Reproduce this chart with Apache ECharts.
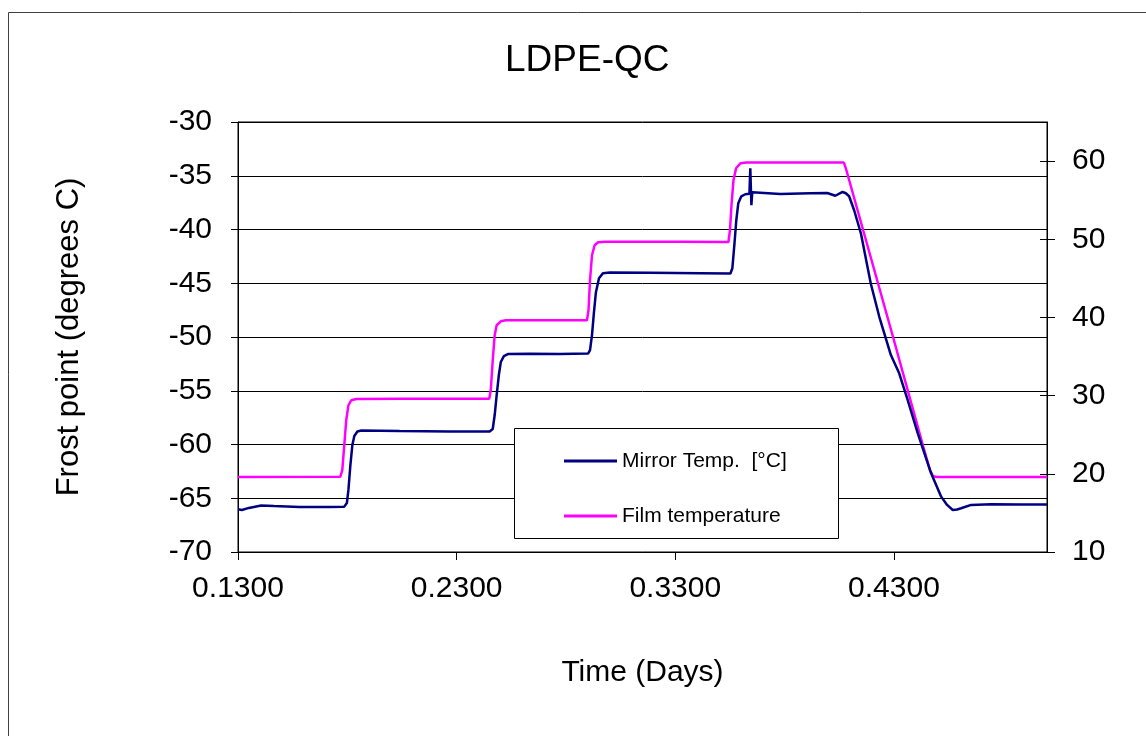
<!DOCTYPE html>
<html>
<head>
<meta charset="utf-8">
<script src="https://cdn.jsdelivr.net/npm/echarts@6/dist/echarts.min.js"></script>
<style>
html,body{margin:0;padding:0;background:#fff;}
#chart{width:1146px;height:736px;}
</style>
</head>
<body>
<div id="chart"></div>
<script>
var chartTitle = 'LDPE-QC';
var xTitle = 'Time (Days)';
var yTitle = 'Frost point (degrees C)';
var seriesNames = ['Mirror Temp.  [°C]', 'Film temperature'];
var xTicks = [0.13, 0.23, 0.33, 0.43];
var yLeftTicks = [-70, -65, -60, -55, -50, -45, -40, -35, -30];
var yRightTicks = [10, 20, 30, 40, 50, 60];

var mirrorX = [0.1300,0.1318,0.1350,0.1406,0.1465,0.1580,0.1717,0.1786,0.1798,0.1805,0.1814,0.1823,0.1832,0.1846,0.1864,0.2039,0.2268,0.2451,0.2465,0.2474,0.2483,0.2493,0.2502,0.2516,0.2534,0.2635,0.2772,0.2901,0.2910,0.2919,0.2928,0.2937,0.2951,0.2969,0.3001,0.3185,0.3414,0.3552,0.3561,0.3570,0.3579,0.3588,0.3602,0.3620,0.3639,0.3643,0.3648,0.3652,0.3661,0.3780,0.3917,0.3995,0.4032,0.4065,0.4080,0.4095,0.4118,0.4149,0.4194,0.4233,0.4286,0.4324,0.4363,0.4409,0.4470,0.4516,0.4543,0.4569,0.4589,0.4607,0.4653,0.4745,0.4883,0.5000];
var mirrorY = [-66.02,-66.09,-65.90,-65.67,-65.72,-65.81,-65.81,-65.78,-65.44,-64.23,-61.91,-60.05,-59.21,-58.79,-58.70,-58.75,-58.79,-58.79,-58.56,-57.26,-55.40,-53.54,-52.33,-51.78,-51.59,-51.56,-51.59,-51.54,-51.22,-49.82,-47.69,-45.83,-44.53,-44.06,-44.00,-44.03,-44.06,-44.09,-43.60,-41.46,-39.14,-37.56,-36.91,-36.72,-36.67,-34.30,-37.74,-36.53,-36.67,-36.70,-36.63,-36.60,-36.86,-36.51,-36.63,-36.91,-38.21,-40.37,-45.02,-48.12,-51.68,-53.38,-55.87,-58.96,-62.68,-64.85,-65.62,-66.09,-66.04,-65.93,-65.62,-65.56,-65.58,-65.58];

var filmX = [0.1300,0.1768,0.1777,0.1786,0.1795,0.1805,0.1818,0.1841,0.2039,0.2449,0.2456,0.2465,0.2474,0.2483,0.2502,0.2525,0.2727,0.2896,0.2903,0.2910,0.2919,0.2931,0.2947,0.2979,0.3323,0.3543,0.3550,0.3557,0.3566,0.3578,0.3598,0.3626,0.3874,0.4071,0.4080,0.4300,0.4432,0.4465,0.4479,0.4497,0.5000];
var filmY = [19.60,19.63,20.46,23.66,26.85,28.77,29.41,29.58,29.60,29.60,30.69,34.53,37.73,39.00,39.51,39.64,39.64,39.64,40.92,44.76,47.96,49.23,49.62,49.68,49.68,49.65,51.15,54.35,57.54,59.08,59.72,59.81,59.81,59.81,59.08,37.08,23.66,20.46,19.69,19.60,19.60];

function pairs(xs, ys) {
  var out = [];
  for (var i = 0; i < xs.length; i++) out.push([xs[i], ys[i]]);
  return out;
}

var FONT = 'Liberation Sans, Arial, sans-serif';
var chart = echarts.init(document.getElementById('chart'), null, {renderer: 'canvas'});
var option = {
  backgroundColor: '#fff',
  animation: false,
  title: {
    text: chartTitle,
    left: 500,
    top: 37,
    textStyle: {fontFamily: FONT, fontSize: 37, fontWeight: 'normal', color: '#000'}
  },
  graphic: {
    elements: [
      {type: 'rect', z: 0, silent: true, shape: {x: 8.5, y: 12.5, width: 1300, height: 900},
       style: {fill: 'none', stroke: '#404040', lineWidth: 1}},
      {type: 'rect', z: 5, silent: true, shape: {x: 514.5, y: 428.5, width: 324, height: 110},
       style: {fill: '#fff', stroke: '#000', lineWidth: 1}}
    ]
  },
  legend: {
    z: 10,
    orient: 'vertical',
    left: 559,
    top: 444,
    itemWidth: 53,
    itemHeight: 3,
    itemGap: 31,
    icon: 'rect',
    data: seriesNames,
    textStyle: {fontFamily: FONT, fontSize: 21, color: '#000', lineHeight: 24}
  },
  grid: {
    left: 238, top: 122, right: 99, bottom: 184,
    show: true, borderColor: '#000', borderWidth: 1, backgroundColor: 'transparent'
  },
  xAxis: {
    type: 'value',
    min: 0.13, max: 0.50, interval: 0.1,
    name: xTitle,
    nameLocation: 'middle',
    nameGap: 106,
    nameTextStyle: {fontFamily: FONT, fontSize: 30, color: '#000'},
    axisLine: {show: true, lineStyle: {color: '#000', width: 1}},
    axisTick: {show: true, inside: false, length: 8, lineStyle: {color: '#000'}, customValues: xTicks},
    axisLabel: {
      customValues: xTicks,
      margin: 22,
      fontFamily: FONT, fontSize: 30, color: '#000',
      formatter: function (v) { return v.toFixed(4); }
    },
    splitLine: {show: false}
  },
  yAxis: [
    {
      type: 'value',
      position: 'left',
      min: -70, max: -30, interval: 5,
      name: yTitle,
      nameLocation: 'middle',
      nameGap: 153,
      nameTextStyle: {fontFamily: FONT, fontSize: 31, color: '#000'},
      axisLine: {show: true, lineStyle: {color: '#000', width: 1}},
      axisTick: {show: true, inside: false, length: 7, lineStyle: {color: '#000'}},
      axisLabel: {
        customValues: yLeftTicks,
        margin: 26, fontFamily: FONT, fontSize: 30, color: '#000'
      },
      splitLine: {show: true, lineStyle: {color: '#000', width: 1}}
    },
    {
      type: 'value',
      position: 'right',
      min: 10, max: 65, interval: 10,
      alignTicks: false,
      axisLine: {show: true, lineStyle: {color: '#000', width: 1}},
      axisTick: {show: true, inside: false, length: 8, lineStyle: {color: '#000'}, customValues: yRightTicks},
      axisLabel: {
        customValues: yRightTicks,
        margin: 25, fontFamily: FONT, fontSize: 30, color: '#000'
      },
      splitLine: {show: false}
    },
    {
      type: 'value',
      position: 'right',
      min: 10, max: 65, interval: 10,
      alignTicks: false,
      axisLine: {show: false},
      axisTick: {show: true, inside: true, length: 7, lineStyle: {color: '#000'}, customValues: yRightTicks},
      axisLabel: {show: false},
      splitLine: {show: false}
    }
  ],
  series: [
    {
      name: seriesNames[0],
      type: 'line',
      xAxisIndex: 0, yAxisIndex: 0,
      data: pairs(mirrorX, mirrorY),
      symbol: 'none', showSymbol: false,
      smooth: false,
      lineStyle: {color: '#000080', width: 2.5},
      itemStyle: {color: '#000080'},
      z: 3
    },
    {
      name: seriesNames[1],
      type: 'line',
      xAxisIndex: 0, yAxisIndex: 1,
      data: pairs(filmX, filmY),
      symbol: 'none', showSymbol: false,
      smooth: false,
      lineStyle: {color: '#FF00FF', width: 2.5},
      itemStyle: {color: '#FF00FF'},
      z: 2
    }
  ]
};
chart.setOption(option);
</script>
</body>
</html>
